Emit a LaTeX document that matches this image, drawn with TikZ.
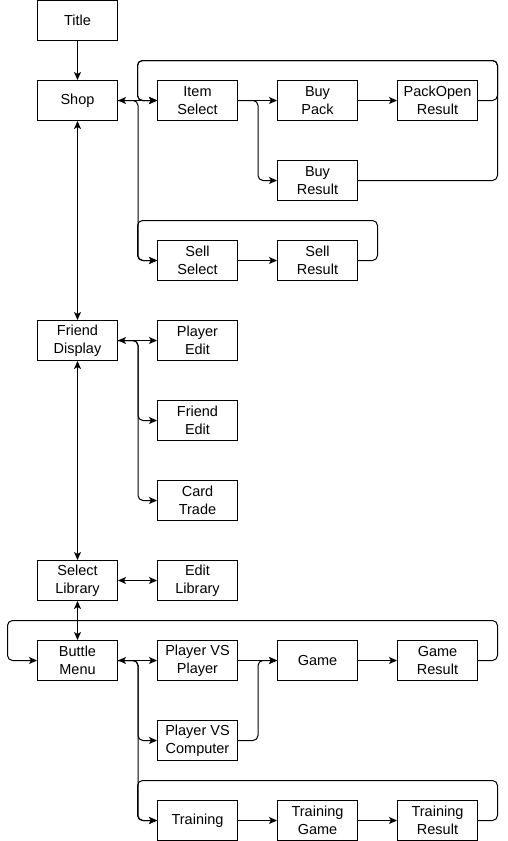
\documentclass[tikz,border=0pt]{standalone}
\usepackage{fontspec}
\setmainfont{Liberation Sans}
\usetikzlibrary{arrows.meta}
\begin{document}
\begin{tikzpicture}[x=1pt,y=-1pt,
  box/.style={draw,line width=1pt,minimum width=80pt,minimum height=40pt,inner sep=0pt,align=center,font=\fontsize{14.5}{18}\selectfont},
  conn/.style={line width=1pt,rounded corners=5pt},
  arr/.style={conn,-{Stealth[length=8pt,width=7pt,inset=2pt]}},
  darr/.style={conn,{Stealth[length=8pt,width=7pt,inset=2pt]}-{Stealth[length=8pt,width=7pt,inset=2pt]}}]
\useasboundingbox (0,0) rectangle (507,841);
% nodes
\node[box] (title)    at (77.5,20.5)  {Title};
\node[box] (shop)     at (77.5,100.5) {Shop};
\node[box] (itemsel)  at (197.5,100.5) {Item\\Select};
\node[box] (buypack)  at (317.5,100.5) {Buy\\Pack};
\node[box] (packopen) at (437.5,100.5) {PackOpen\\Result};
\node[box] (buyres)   at (317.5,180.5) {Buy\\Result};
\node[box] (sellsel)  at (197.5,260.5) {Sell\\Select};
\node[box] (sellres)  at (317.5,260.5) {Sell\\Result};
\node[box] (fd)       at (77.5,340.5) {Friend\\Display};
\node[box] (pe)       at (197.5,340.5) {Player\\Edit};
\node[box] (fe)       at (197.5,420.5) {Friend\\Edit};
\node[box] (ct)       at (197.5,500.5) {Card\\Trade};
\node[box] (sl)       at (77.5,580.5) {Select\\Library};
\node[box] (el)       at (197.5,580.5) {Edit\\Library};
\node[box] (bm)       at (77.5,660.5) {Buttle\\Menu};
\node[box] (pvp)      at (197.5,660.5) {Player VS\\Player};
\node[box] (pvc)      at (197.5,740.5) {Player VS\\Computer};
\node[box] (game)     at (317.5,660.5) {Game};
\node[box] (gres)     at (437.5,660.5) {Game\\Result};
\node[box] (train)    at (197.5,820.5) {Training};
\node[box] (tgame)    at (317.5,820.5) {Training\\Game};
\node[box] (tres)     at (437.5,820.5) {Training\\Result};
% loop coordinates
\coordinate (aR) at (497.5,60.5);
\coordinate (aL) at (137.5,60.5);
\coordinate (bR) at (377.5,220.5);
\coordinate (bL) at (137.5,220.5);
\coordinate (cR) at (497.5,620.5);
\coordinate (cL) at (7.5,620.5);
\coordinate (dR) at (497.5,780.5);
\coordinate (dL) at (137.5,780.5);
% vertical spine
\draw[arr] (title) -- (shop);
\draw[darr] (shop) -- (fd);
\draw[darr] (fd) -- (sl);
\draw[darr] (sl) -- (bm);
% shop group
\draw[darr] (shop) -- (itemsel);
\draw[arr] (shop.east) -- ++(20,0) |- (sellsel.west);
\draw[arr] (itemsel) -- (buypack);
\draw[arr] (itemsel.east) -- ++(20,0) |- (buyres.west);
\draw[arr] (buypack) -- (packopen);
\draw[arr] (packopen.east) -| (aR) -- (aL) |- (itemsel.west);
\draw[arr] (buyres.east) -| (aR) -- (aL) |- (itemsel.west);
\draw[arr] (sellsel) -- (sellres);
\draw[arr] (sellres.east) -| (bR) -- (bL) |- (sellsel.west);
% friend group
\draw[darr] (fd) -- (pe);
\draw[arr] (fd.east) -- ++(20,0) |- (fe.west);
\draw[arr] (fd.east) -- ++(20,0) |- (ct.west);
% library
\draw[darr] (sl) -- (el);
% buttle group
\draw[darr] (bm) -- (pvp);
\draw[arr] (bm.east) -- ++(20,0) |- (pvc.west);
\draw[arr] (bm.east) -- ++(20,0) |- (train.west);
\draw[arr] (pvp) -- (game);
\draw[arr] (pvc.east) -- ++(20,0) |- (game.west);
\draw[arr] (game) -- (gres);
\draw[arr] (gres.east) -| (cR) -- (cL) |- (bm.west);
\draw[arr] (train) -- (tgame);
\draw[arr] (tgame) -- (tres);
\draw[arr] (tres.east) -| (dR) -- (dL) |- (train.west);
\end{tikzpicture}
\end{document}
